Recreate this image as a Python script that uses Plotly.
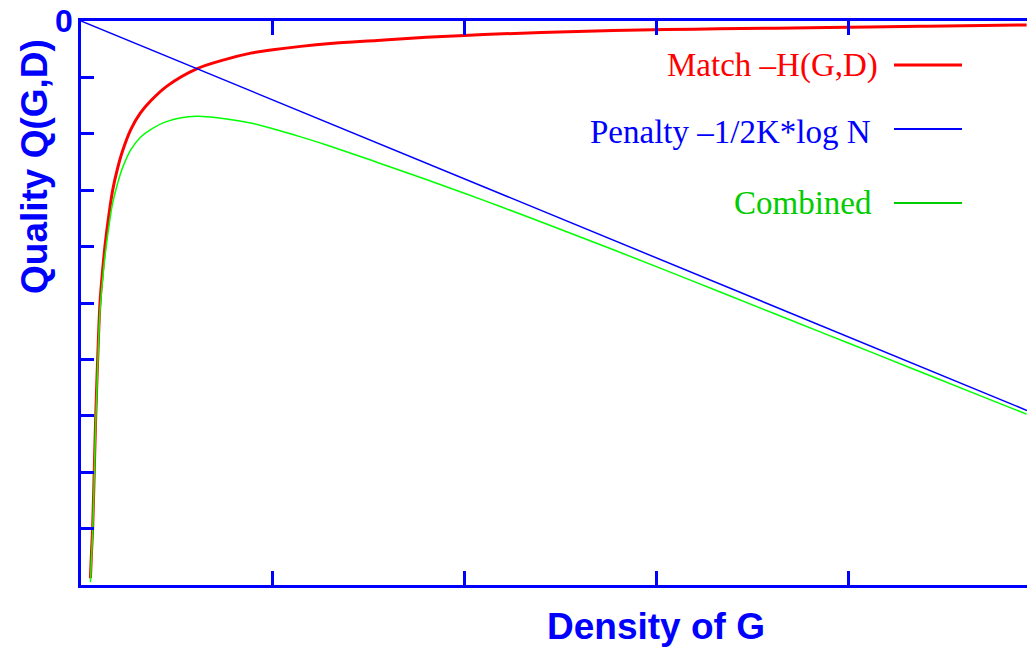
import plotly.graph_objects as go

# Density values (x) and curve readings
density = [0.049, 0.055, 0.061, 0.069, 0.077, 0.087, 0.099, 0.112, 0.125, 0.145,
           0.165, 0.19, 0.217, 0.26, 0.31, 0.365, 0.45, 0.6, 0.75, 0.885,
           1.0, 1.146, 1.3, 1.545, 1.8, 2.1, 2.4, 2.776, 3.2, 3.62,
           4.0, 4.375, 4.7, 4.93]
match_h = [-9.88, -9.4, -8.97, -7.99, -6.98, -5.99, -5.0, -4.45, -3.99, -3.45,
           -3.0, -2.62, -2.30, -1.92, -1.63, -1.41, -1.15, -0.853, -0.685, -0.57,
           -0.51, -0.45, -0.40, -0.345, -0.29, -0.24, -0.205, -0.17, -0.145, -0.128,
           -0.11, -0.093, -0.08, -0.07]
combined = [-9.95, -9.48, -9.06, -8.09, -7.09, -6.11, -5.14, -4.61, -4.17, -3.65,
            -3.23, -2.89, -2.60, -2.28, -2.06, -1.92, -1.78, -1.69, -1.735, -1.81,
            -1.91, -2.054, -2.22, -2.508, -2.81, -3.18, -3.565, -4.056, -4.625, -5.196,
            -5.71, -6.218, -6.66, -6.97]
penalty_x = [0.0, 4.932]
penalty_y = [0.0, -6.905]

x_ticks = [1, 2, 3, 4]
y_ticks = [0, -1, -2, -3, -4, -5, -6, -7, -8, -9, -10]

legend_names = ["Match \u2013H(G,D)", "Penalty \u20131/2K*log N", "Combined"]

BLUE = "#0000ff"
RED = "#ff0000"
GREEN = "#00ff00"
GREEN_TXT = "#00cc00"

fig = go.Figure()
fig.add_trace(go.Scatter(x=density, y=match_h, mode="lines",
                         line=dict(color=RED, width=3, shape="spline", smoothing=1.0), showlegend=False))
fig.add_trace(go.Scatter(x=penalty_x, y=penalty_y, mode="lines",
                         line=dict(color=BLUE, width=1.5), showlegend=False))
fig.add_trace(go.Scatter(x=density, y=combined, mode="lines",
                         line=dict(color=GREEN, width=1.5, shape="spline", smoothing=1.0), showlegend=False))

W, H = 1027, 647
L, R, T, B = 81, 0, 21, 62
pw, ph = W - L - R, H - T - B

def px(xp):
    return (xp - L) / pw

def py(yp):
    return 1 - (yp - T) / ph

annotations = [
    dict(text="<b>0</b>", x=px(75), y=py(21), xref="paper", yref="paper",
         xanchor="right", yanchor="middle", showarrow=False,
         font=dict(family="Liberation Sans, Arial", size=32, color=BLUE)),
    dict(text="<b>Density of G</b>", x=3, y=py(626), xref="x", yref="paper",
         xanchor="center", yanchor="middle", showarrow=False,
         font=dict(family="Liberation Sans, Arial", size=37, color=BLUE)),
    dict(text="<b>Quality Q(G,D)</b>", x=px(34), y=py(167), xref="paper", yref="paper",
         xanchor="center", yanchor="middle", showarrow=False, textangle=-90,
         font=dict(family="Liberation Sans, Arial", size=37, color=BLUE)),
]
legend_rows = [(legend_names[0], RED, RED, 880, 66, 65, 3),
               (legend_names[1], BLUE, BLUE, 873, 132, 129, 2),
               (legend_names[2], GREEN_TXT, GREEN_TXT, 874, 203, 203, 2)]
shapes = []
for name, tcol, lcol, xr, yt, yl, lw in legend_rows:
    annotations.append(dict(text=name, x=px(xr), y=py(yt), xref="paper", yref="paper",
                            xanchor="right", yanchor="middle", showarrow=False,
                            font=dict(family="Liberation Serif, Times New Roman", size=33, color=tcol)))
    shapes.append(dict(type="line", xref="paper", yref="paper",
                       x0=px(894), x1=px(962), y0=py(yl), y1=py(yl),
                       line=dict(color=lcol, width=lw)))

fig.update_layout(
    width=W, height=H,
    margin=dict(l=L, r=R, t=T, b=B),
    paper_bgcolor="white", plot_bgcolor="white",
    annotations=annotations, shapes=shapes,
    xaxis=dict(range=[0, 4.932], showgrid=False, zeroline=False,
               showline=True, linecolor=BLUE, linewidth=3, mirror="ticks",
               ticks="inside", ticklen=14, tickwidth=3, tickcolor=BLUE,
               tickvals=x_ticks, showticklabels=False),
    yaxis=dict(range=[-10, 0], showgrid=False, zeroline=False,
               showline=True, linecolor=BLUE, linewidth=3, mirror=False,
               ticks="inside", ticklen=13, tickwidth=3, tickcolor=BLUE,
               tickvals=y_ticks, showticklabels=False),
    hovermode=False,
)

fig.write_html("out.html", config={"displayModeBar": False, "staticPlot": True},
               post_script="document.body.style.margin='0px';document.body.style.overflow='hidden';")
